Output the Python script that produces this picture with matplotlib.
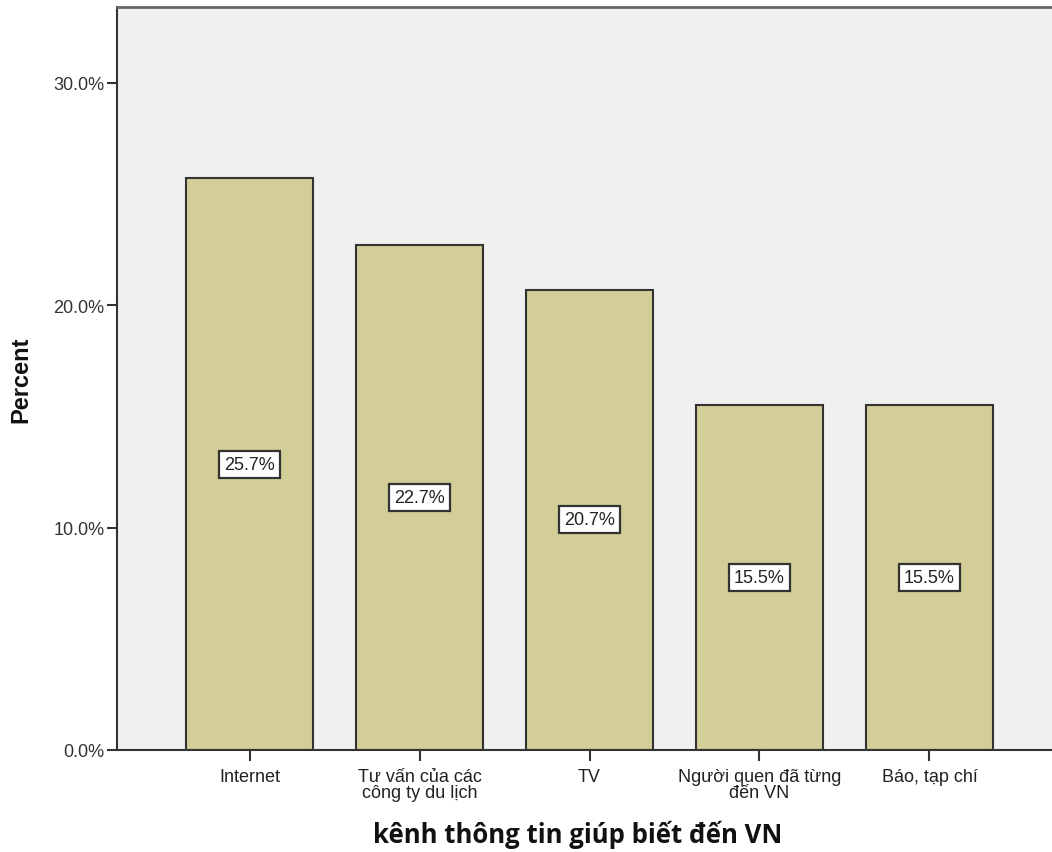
import matplotlib
matplotlib.use("Agg")
import matplotlib.pyplot as plt
from matplotlib.ticker import FuncFormatter

categories = [
    "Internet",
    "Tư vấn của các\ncông ty du lịch",
    "TV",
    "Người quen đã từng\nđến VN",
    "Báo, tạp chí",
]
percents = [25.7, 22.7, 20.7, 15.5, 15.5]
y_ticks = [0, 10, 20, 30]

plt.rcParams["font.family"] = ["Liberation Sans", "DejaVu Sans"]

fig = plt.figure(figsize=(10.52, 8.53), dpi=100)
ax = fig.add_axes([117 / 1052, 102 / 853, 945 / 1052, 743 / 853])
ax.set_facecolor("#F0F0F0")

x = list(range(len(categories)))
ax.bar(x, percents, width=0.75, color="#D3CE97", edgecolor="#333333",
       linewidth=1.5, zorder=2)

for xi, v in zip(x, percents):
    ax.text(xi, v / 2, f"{v:.1f}%", ha="center", va="center", fontsize=13,
            color="#222222", zorder=3,
            bbox=dict(boxstyle="square,pad=0.28", facecolor="white",
                      edgecolor="#333333", linewidth=1.6))

ax.set_xlim(-0.78, 4.78)
ax.set_ylim(0, 33.4)
ax.set_yticks(y_ticks)
ax.yaxis.set_major_formatter(FuncFormatter(lambda v, _: f"{v:.1f}%"))
ax.set_xticks(x)
ax.set_xticklabels(categories, fontsize=13, linespacing=0.95)

ax.tick_params(axis="y", labelsize=13, length=7, width=1.5, color="#333333",
               labelcolor="#333333", pad=2)
ax.tick_params(axis="x", length=8, width=1.5, color="#333333",
               labelcolor="#222222", pad=5)

for side in ("left", "bottom"):
    ax.spines[side].set_color("#333333")
    ax.spines[side].set_linewidth(1.5)
ax.spines["top"].set_color("#666666")
ax.spines["top"].set_linewidth(2)
ax.spines["right"].set_visible(False)

ax.set_ylabel("Percent", fontsize=17, fontweight="bold", color="#111111",
              family=["Liberation Sans", "DejaVu Sans"])
ax.set_xlabel("kênh thông tin giúp biết đến VN", fontsize=18.5,
              fontweight="bold", family=["Open Sans", "DejaVu Sans"],
              color="#111111")
ax.yaxis.set_label_coords(-0.09, 0.5)
ax.xaxis.set_label_coords(0.488, -0.094)

fig.savefig("out.png", dpi=100, facecolor="white")
